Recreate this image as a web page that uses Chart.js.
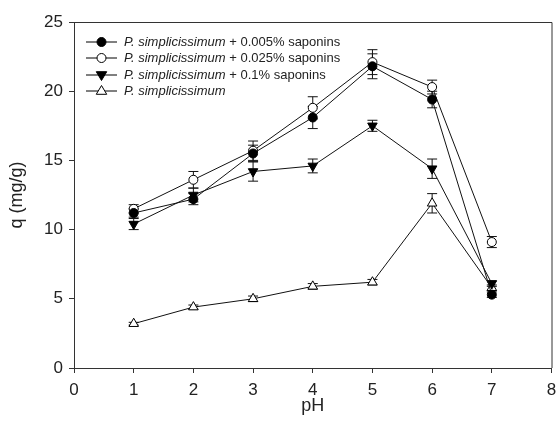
<!DOCTYPE html>
<html>
<head>
<meta charset="utf-8">
<script src="https://cdn.jsdelivr.net/npm/chart.js@4.4.1/dist/chart.umd.min.js"></script>
<style>
  html, body { margin: 0; padding: 0; background: #fff; }
  #wrap { width: 558px; height: 422px; }
</style>
</head>
<body>
<div id="wrap"><canvas id="c" width="558" height="422"></canvas></div>
<script>
const pH = [1, 2, 3, 4, 5, 6, 7];
const xTicks = [0, 1, 2, 3, 4, 5, 6, 7, 8];
const yTicks = [0, 5, 10, 15, 20, 25];

const q005 = [11.2, 12.2, 15.5, 18.1, 21.8, 19.4, 5.3];
const q005Err = [0.3, 0.4, 0.6, 0.8, 0.9, 0.6, 0.2];
const q025 = [11.5, 13.6, 15.7, 18.8, 22.1, 20.3, 9.1];
const q025Err = [0.3, 0.6, 0.7, 0.8, 0.9, 0.5, 0.4];
const q1 = [10.4, 12.5, 14.2, 14.6, 17.5, 14.4, 6.1];
const q1Err = [0.4, 0.5, 0.7, 0.5, 0.4, 0.7, 0.2];
const qCtrl = [3.2, 4.4, 5.0, 5.9, 6.2, 11.9, 5.8];
const qCtrlErr = [0.1, 0.15, 0.2, 0.2, 0.2, 0.7, 0.2];

const legendItalic = 'P. simplicissimum';
const legendSuffix = [' + 0.005% saponins', ' + 0.025% saponins', ' + 0.1% saponins', ''];

const FONT = '"Liberation Sans", Arial, sans-serif';
const INK = '#222';

function pts(ys) { return pH.map((x, i) => ({ x: x, y: ys[i] })); }

const series = [
  { data: q005, err: q005Err, style: 'circle', rot: 0, fill: '#000', r: 4.5 },
  { data: q025, err: q025Err, style: 'circle', rot: 0, fill: '#fff', r: 4.5 },
  { data: q1, err: q1Err, style: 'triangle', rot: 180, fill: '#000', r: 5.5 },
  { data: qCtrl, err: qCtrlErr, style: 'triangle', rot: 0, fill: '#fff', r: 5.5 }
];

const errorBars = {
  id: 'errorBars',
  beforeDatasetsDraw(chart) {
    const ctx = chart.ctx, xs = chart.scales.x, ys = chart.scales.y;
    ctx.save();
    ctx.strokeStyle = '#111';
    ctx.lineWidth = 1;
    series.forEach(s => {
      s.data.forEach((v, i) => {
        const px = xs.getPixelForValue(pH[i]);
        const top = ys.getPixelForValue(v + s.err[i]);
        const bot = ys.getPixelForValue(v - s.err[i]);
        ctx.beginPath();
        ctx.moveTo(px, top); ctx.lineTo(px, bot);
        ctx.moveTo(px - 5, top); ctx.lineTo(px + 5, top);
        ctx.moveTo(px - 5, bot); ctx.lineTo(px + 5, bot);
        ctx.stroke();
      });
    });
    ctx.restore();
  }
};

function drawMarker(ctx, s, x, y) {
  ctx.save();
  ctx.fillStyle = s.fill;
  ctx.strokeStyle = '#000';
  ctx.lineWidth = 1;
  ctx.beginPath();
  if (s.style === 'circle') {
    ctx.arc(x, y, s.r, 0, Math.PI * 2);
  } else {
    const r = s.r;
    const dir = s.rot === 180 ? -1 : 1;
    ctx.moveTo(x, y - dir * r);
    ctx.lineTo(x + r * 0.95, y + dir * r * 0.6);
    ctx.lineTo(x - r * 0.95, y + dir * r * 0.6);
    ctx.closePath();
  }
  ctx.fill();
  ctx.stroke();
  ctx.restore();
}

const frameAndLegend = {
  id: 'frameAndLegend',
  afterDraw(chart) {
    const ctx = chart.ctx, a = chart.chartArea;
    ctx.save();
    ctx.strokeStyle = '#333';
    ctx.lineWidth = 1;
    ctx.beginPath();
    ctx.moveTo(a.left, a.top + 0.5); ctx.lineTo(a.right + 0.5, a.top + 0.5);
    ctx.lineTo(a.right + 0.5, a.bottom);
    ctx.stroke();

    const lx0 = a.left + 12, lx1 = a.left + 43, tx = a.left + 50;
    const rowY = [42, 58, 75, 91];
    ctx.textBaseline = 'middle';
    series.forEach((s, i) => {
      const y = rowY[i];
      ctx.strokeStyle = '#000';
      ctx.beginPath();
      ctx.moveTo(lx0, y); ctx.lineTo(lx1, y);
      ctx.stroke();
      drawMarker(ctx, s, (lx0 + lx1) / 2, y);
      ctx.fillStyle = INK;
      ctx.font = 'italic 13px ' + FONT;
      ctx.fillText(legendItalic, tx, y);
      const w = ctx.measureText(legendItalic).width;
      ctx.font = '13px ' + FONT;
      ctx.fillText(legendSuffix[i], tx + w, y);
    });
    ctx.restore();
  }
};

const datasets = series.map(s => ({
  data: pts(s.data),
  borderColor: '#111',
  borderWidth: 1,
  pointStyle: s.style,
  pointRotation: s.rot,
  pointRadius: s.r,
  pointHoverRadius: s.r,
  pointBackgroundColor: s.fill,
  pointBorderColor: '#000',
  pointBorderWidth: 1,
  tension: 0,
  fill: false
}));

new Chart(document.getElementById('c'), {
  type: 'line',
  data: { datasets: datasets },
  options: {
    responsive: false,
    animation: false,
    events: [],
    layout: { padding: { top: 22, right: 5, left: 0, bottom: 0 } },
    plugins: { legend: { display: false }, tooltip: { enabled: false } },
    scales: {
      x: {
        type: 'linear',
        min: 0, max: 8,
        afterBuildTicks(sc) { sc.ticks = xTicks.map(v => ({ value: v })); },
        afterFit(sc) { sc.height = 54; sc.paddingLeft = 0; sc.paddingRight = 0; },
        grid: { drawOnChartArea: false, drawTicks: true, tickLength: 5, color: '#333' },
        border: { display: true, color: '#333', width: 1 },
        ticks: { color: INK, font: { family: FONT, size: 17 }, padding: 7, maxRotation: 0 },
        title: { display: true, text: 'pH', color: INK, font: { family: FONT, size: 18 }, padding: { top: 0, bottom: 5 } }
      },
      y: {
        type: 'linear',
        min: 0, max: 25,
        afterBuildTicks(sc) { sc.ticks = yTicks.map(v => ({ value: v })); },
        afterFit(sc) { sc.width = 74; sc.paddingTop = 0; sc.paddingBottom = 0; },
        grid: { drawOnChartArea: false, drawTicks: true, tickLength: 5, color: '#333' },
        border: { display: true, color: '#333', width: 1 },
        ticks: { color: INK, font: { family: FONT, size: 17 }, padding: 6 },
        title: { display: true, text: 'q (mg/g)', color: INK, font: { family: FONT, size: 18 }, padding: { top: 6, bottom: 4 } }
      }
    }
  },
  plugins: [errorBars, frameAndLegend]
});
</script>
</body>
</html>
